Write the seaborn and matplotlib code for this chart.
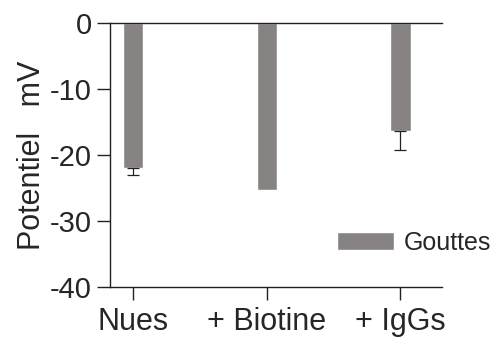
import matplotlib
matplotlib.use("Agg")
import matplotlib.pyplot as plt
import pandas as pd
import seaborn as sns


categories = ["Nues", "+ Biotine", "+ IgGs"]
potentiel = [-22.0, -25.3, -16.4]
erreur = [1.1, 0.0, 2.9]
serie = "Gouttes"


def main():
    sns.set_theme(style="ticks")
    plt.rcParams["font.family"] = ["Liberation Sans", "DejaVu Sans"]
    plt.rcParams["axes.unicode_minus"] = False

    df = pd.DataFrame({"cat": categories, "val": potentiel, "err": erreur})

    fig = plt.figure(figsize=(4.97, 3.38), dpi=100)
    ax = fig.add_axes([0.2213, 0.151, 0.668, 0.781])

    sns.barplot(data=df, x="cat", y="val", color="#878383", width=0.15,
                saturation=1, errorbar=None, label=serie, ax=ax)

    # only the lower half of the error bar is visible, skip bars without error
    has_err = df[df["err"] > 0]
    pos = [categories.index(c) for c in has_err["cat"]]
    ax.errorbar(pos, has_err["val"], yerr=[has_err["err"], [0] * len(pos)],
                fmt="none", ecolor="#222222", elinewidth=0.9, capsize=4.5,
                capthick=0.9)

    ax.set_ylim(-40, 0)
    ax.set_yticks([0, -10, -20, -30, -40])
    ax.set_xlim(-0.17, 2.31)
    ax.set_xlabel("")
    ax.set_ylabel("Potentiel   mV", fontsize=22, labelpad=2)
    ax.tick_params(axis="y", labelsize=21, length=9.4, width=1, direction="out",
                   pad=3.5, color="#222222")
    ax.tick_params(axis="x", labelsize=22, length=9.4, width=1, direction="out",
                   pad=5, color="#222222")

    for side in ["top", "bottom", "left"]:
        ax.spines[side].set_visible(True)
        ax.spines[side].set_linewidth(1)
        ax.spines[side].set_color("#222222")
    ax.spines["right"].set_visible(False)

    ax.legend(loc="center left", bbox_to_anchor=(0.683, 0.167), frameon=False,
              fontsize=18, handlelength=2.3, handleheight=0.75,
              handletextpad=0.4, borderaxespad=0, borderpad=0)

    fig.savefig("out.png", dpi=100)
    plt.close(fig)


if __name__ == "__main__":
    main()
